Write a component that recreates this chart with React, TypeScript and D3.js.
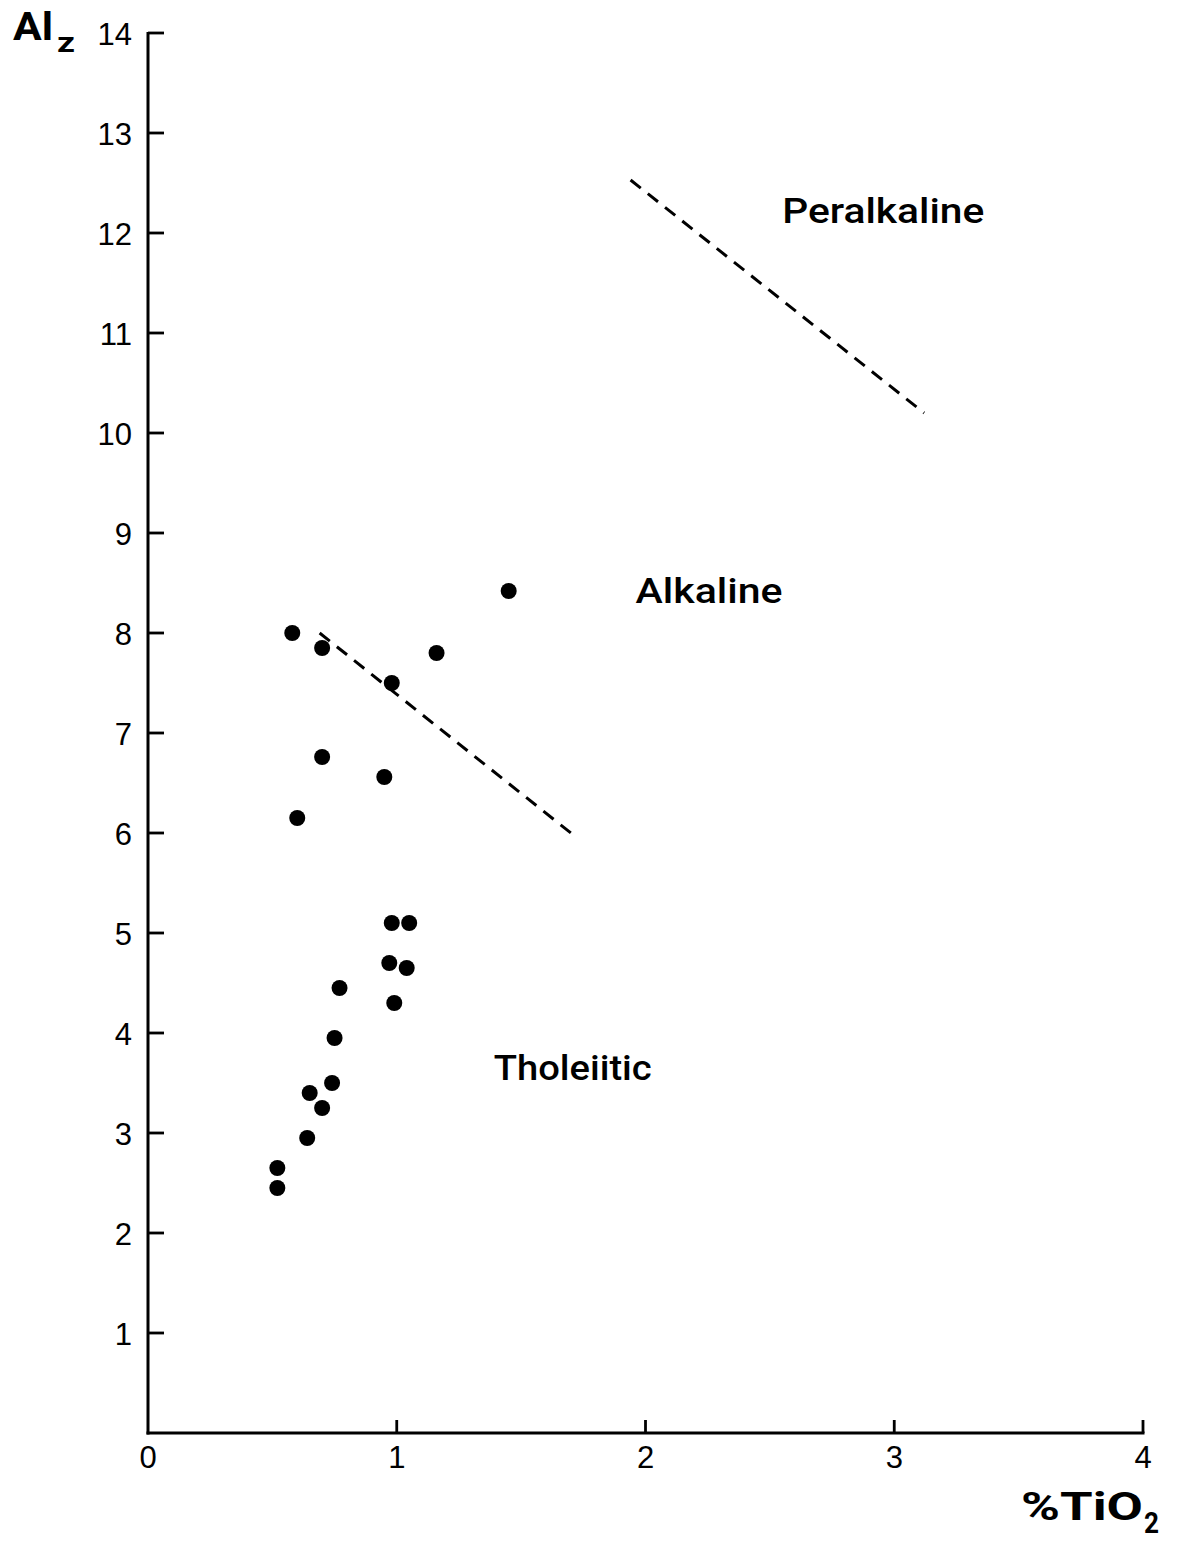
import React, { useEffect, useRef } from "react";
import * as d3 from "d3";

// TiO2 (wt %) against Al_z for the analysed basalts
const tio2 = [0.58, 0.70, 1.16, 0.98, 1.45, 0.70, 0.95, 0.60, 0.98, 1.05, 0.97, 1.04, 0.77, 0.99, 0.75, 0.74, 0.65, 0.70, 0.64, 0.52, 0.52];
const alz = [8.0, 7.85, 7.8, 7.5, 8.42, 6.76, 6.56, 6.15, 5.1, 5.1, 4.7, 4.65, 4.45, 4.3, 3.95, 3.5, 3.4, 3.25, 2.95, 2.65, 2.45];

// Dashed field boundaries: [TiO2, Alz] end points
const tholeiiticAlkalineLine = [[0.69, 8.0], [1.70, 6.0]];
const alkalinePeralkalineLine = [[1.94, 12.53], [3.12, 10.2]];

const xTicks = [0, 1, 2, 3, 4];
const yTicks = [1, 2, 3, 4, 5, 6, 7, 8, 9, 10, 11, 12, 13, 14];

// Field names with their anchor (left, baseline) in data units
const fieldNames = ["Peralkaline", "Alkaline", "Tholeiitic"];
const fieldX = [2.55, 1.96, 1.39];
const fieldY = [12.1, 8.3, 3.53];

const W = 1177;
const H = 1543;

export default function App() {
  const ref = useRef<SVGSVGElement | null>(null);

  useEffect(() => {
    const svg = d3.select(ref.current);
    svg.selectAll("*").remove();

    const x = d3.scaleLinear().domain([0, 4]).range([148, 1143]);
    const y = d3.scaleLinear().domain([0, 14]).range([1433, 33]);

    const ink = "#000";
    const tickFont = "'Liberation Sans', Arial, sans-serif";
    const labelFont = "Roboto, 'Noto Sans', sans-serif";

    // axis frame lines
    svg.append("line")
      .attr("x1", x(0)).attr("x2", x(0))
      .attr("y1", y(14) - 1).attr("y2", y(0) + 1.5)
      .attr("stroke", ink).attr("stroke-width", 3);
    svg.append("line")
      .attr("x1", x(0) - 1.5).attr("x2", x(4) + 1.5)
      .attr("y1", y(0)).attr("y2", y(0))
      .attr("stroke", ink).attr("stroke-width", 3);

    // y ticks point inward (right)
    yTicks.forEach((t) => {
      svg.append("line")
        .attr("x1", x(0)).attr("x2", x(0) + 16)
        .attr("y1", y(t)).attr("y2", y(t))
        .attr("stroke", ink).attr("stroke-width", 2.8);
      svg.append("text")
        .attr("x", x(0) - 16)
        .attr("y", y(t) + 11.5)
        .attr("text-anchor", "end")
        .attr("font-family", tickFont)
        .attr("font-size", 31)
        .attr("fill", ink)
        .text(String(t));
    });

    // x ticks point inward (up)
    xTicks.forEach((t) => {
      if (t > 0) {
        svg.append("line")
          .attr("x1", x(t)).attr("x2", x(t))
          .attr("y1", y(0)).attr("y2", y(0) - 13)
          .attr("stroke", ink).attr("stroke-width", 2.8);
      }
      svg.append("text")
        .attr("x", x(t))
        .attr("y", y(0) + 35)
        .attr("text-anchor", "middle")
        .attr("font-family", tickFont)
        .attr("font-size", 31)
        .attr("fill", ink)
        .text(String(t));
    });

    // y axis title: Al with subscript z
    svg.append("text")
      .attr("x", 13).attr("y", 40)
      .attr("font-family", labelFont)
      .attr("font-weight", 700)
      .attr("font-size", 38)
      .attr("textLength", 40)
      .attr("lengthAdjust", "spacingAndGlyphs")
      .attr("fill", ink)
      .text("Al");
    svg.append("text")
      .attr("x", 57).attr("y", 52)
      .attr("font-family", labelFont)
      .attr("font-weight", 700)
      .attr("font-size", 28)
      .attr("textLength", 18)
      .attr("lengthAdjust", "spacingAndGlyphs")
      .attr("fill", ink)
      .text("z");

    // x axis title: %TiO with subscript 2
    svg.append("text")
      .attr("x", 1021).attr("y", 1520)
      .attr("font-family", labelFont)
      .attr("font-weight", 700)
      .attr("font-size", 38)
      .attr("textLength", 122)
      .attr("lengthAdjust", "spacingAndGlyphs")
      .attr("fill", ink)
      .text("%TiO");
    svg.append("text")
      .attr("x", 1144).attr("y", 1533)
      .attr("font-family", labelFont)
      .attr("font-weight", 700)
      .attr("font-size", 30)
      .attr("textLength", 15)
      .attr("lengthAdjust", "spacingAndGlyphs")
      .attr("fill", ink)
      .text("2");

    // dashed boundaries
    const line = d3.line<number[]>().x((d) => x(d[0])).y((d) => y(d[1]));
    [tholeiiticAlkalineLine, alkalinePeralkalineLine].forEach((seg) => {
      svg.append("path")
        .attr("d", line(seg))
        .attr("fill", "none")
        .attr("stroke", ink)
        .attr("stroke-width", 3)
        .attr("stroke-dasharray", "13,9");
    });

    // field names
    const widths = [202, 147, 158];
    fieldNames.forEach((name, i) => {
      svg.append("text")
        .attr("x", x(fieldX[i]))
        .attr("y", y(fieldY[i]))
        .attr("font-family", labelFont)
        .attr("font-weight", 500)
        .attr("font-size", 35)
        .attr("textLength", widths[i])
        .attr("lengthAdjust", "spacingAndGlyphs")
        .attr("fill", ink)
        .text(name);
    });

    // samples
    svg.append("g")
      .selectAll("circle")
      .data(tio2.map((v, i) => [v, alz[i]]))
      .join("circle")
      .attr("cx", (d) => x(d[0]))
      .attr("cy", (d) => y(d[1]))
      .attr("r", 8)
      .attr("fill", ink);
  }, []);

  return (
    <svg
      ref={ref}
      width={W}
      height={H}
      style={{ position: "absolute", left: 0, top: 0, background: "#fff" }}
    />
  );
}
